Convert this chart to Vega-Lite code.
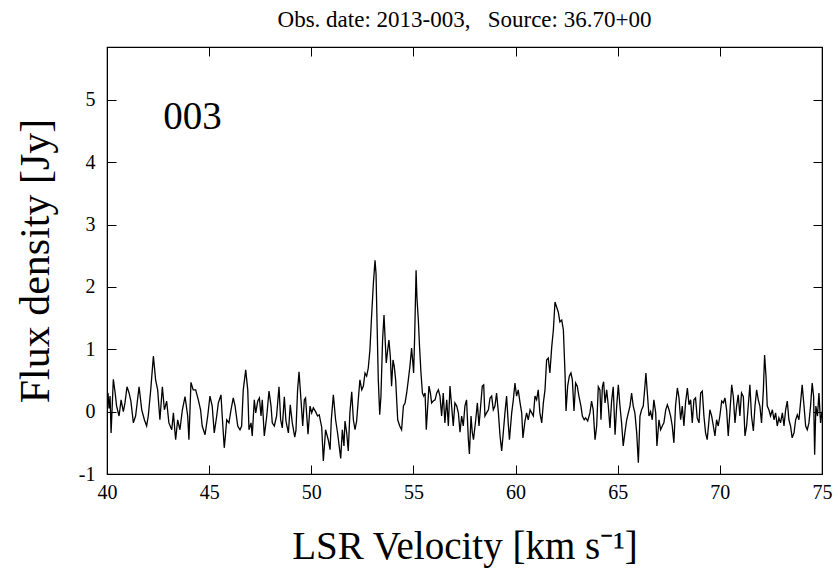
{
"$schema": "https://vega.github.io/schema/vega-lite/v6.json",
"width": 715, "height": 427,
"autosize": {"type": "none"},
"padding": {"left": 107, "top": 47, "right": 16, "bottom": 97},
"background": "white",
"config": {"view": {"stroke": "black", "strokeWidth": 1.2}, "font": "Liberation Serif",
  "axis": {"labelFont": "Liberation Serif", "titleFont": "Liberation Serif", "labelColor": "black", "titleColor": "black", "titleFontWeight": "normal", "grid": false},
  "text": {"font": "Liberation Serif"}},
"title": {"text": "Obs. date: 2013-003,\u00a0\u00a0\u00a0Source: 36.70+00", "fontSize": 23, "font": "Liberation Serif", "fontWeight": "normal", "color": "black", "anchor": "middle", "offset": 15},
"datasets": {
"spec": [
{"v":40.00,"f":0.20},{"v":40.05,"f":0.30},{"v":40.10,"f":0.05},{"v":40.15,"f":0.25},{"v":40.20,"f":-0.34},{"v":40.31,"f":0.52},{"v":40.40,"f":0.30},{"v":40.47,"f":0.09},{"v":40.59,"f":-0.07},{"v":40.69,"f":0.19},{"v":40.80,"f":0.00},{"v":40.88,"f":0.14},{"v":40.98,"f":0.40},{"v":41.08,"f":0.30},{"v":41.17,"f":0.17},{"v":41.29,"f":-0.18},{"v":41.40,"f":-0.07},{"v":41.57,"f":0.40},{"v":41.70,"f":0.03},{"v":41.83,"f":-0.13},{"v":41.94,"f":-0.23},{"v":42.02,"f":-0.07},{"v":42.14,"f":0.35},{"v":42.27,"f":0.89},{"v":42.38,"f":0.51},{"v":42.48,"f":0.35},{"v":42.59,"f":-0.13},{"v":42.71,"f":0.40},{"v":42.81,"f":0.03},{"v":42.92,"f":0.17},{"v":43.03,"f":-0.18},{"v":43.17,"f":-0.29},{"v":43.25,"f":-0.02},{"v":43.36,"f":-0.45},{"v":43.46,"f":-0.13},{"v":43.57,"f":-0.29},{"v":43.69,"f":0.03},{"v":43.82,"f":0.24},{"v":43.95,"f":-0.07},{"v":44.01,"f":-0.45},{"v":44.11,"f":0.47},{"v":44.22,"f":0.35},{"v":44.34,"f":0.35},{"v":44.47,"f":0.19},{"v":44.58,"f":0.03},{"v":44.66,"f":-0.23},{"v":44.80,"f":-0.37},{"v":44.93,"f":-0.07},{"v":45.04,"f":0.25},{"v":45.15,"f":0.09},{"v":45.25,"f":-0.34},{"v":45.37,"f":-0.07},{"v":45.45,"f":0.14},{"v":45.58,"f":0.27},{"v":45.64,"f":-0.07},{"v":45.74,"f":-0.58},{"v":45.80,"f":-0.37},{"v":45.86,"f":-0.13},{"v":45.97,"f":-0.18},
{"v":46.07,"f":0.03},{"v":46.18,"f":0.22},{"v":46.27,"f":0.09},{"v":46.40,"f":-0.23},{"v":46.51,"f":-0.29},{"v":46.59,"f":-0.23},{"v":46.67,"f":0.35},{"v":46.79,"f":0.67},{"v":46.89,"f":0.35},{"v":46.95,"f":-0.29},{"v":47.05,"f":-0.18},{"v":47.11,"f":-0.39},{"v":47.21,"f":0.19},{"v":47.28,"f":-0.02},{"v":47.38,"f":0.17},{"v":47.46,"f":0.22},{"v":47.54,"f":-0.07},{"v":47.60,"f":0.19},{"v":47.70,"f":-0.39},{"v":47.82,"f":-0.07},{"v":47.93,"f":0.33},{"v":48.03,"f":0.09},{"v":48.09,"f":-0.18},{"v":48.19,"f":-0.23},{"v":48.30,"f":-0.07},{"v":48.42,"f":0.40},{"v":48.50,"f":-0.13},{"v":48.58,"f":-0.26},{"v":48.68,"f":0.24},{"v":48.76,"f":-0.15},{"v":48.88,"f":-0.34},{"v":48.97,"f":0.11},{"v":49.07,"f":-0.18},{"v":49.19,"f":-0.41},{"v":49.25,"f":-0.30},{"v":49.33,"f":0.35},{"v":49.40,"f":0.64},{"v":49.50,"f":0.17},{"v":49.58,"f":-0.23},{"v":49.66,"f":0.19},{"v":49.72,"f":0.22},{"v":49.84,"f":-0.36},{"v":49.94,"f":0.09},{"v":50.02,"f":-0.02},{"v":50.10,"f":0.06},{"v":50.21,"f":0.00},{"v":50.31,"f":-0.07},{"v":50.39,"f":-0.05},{"v":50.51,"f":-0.25},{"v":50.59,"f":-0.79},{"v":50.70,"f":-0.29},{"v":50.83,"f":-0.45},{"v":50.92,"f":-0.61},{"v":50.98,"f":-0.13},{"v":51.08,"f":0.27},{"v":51.19,"f":-0.13},{"v":51.29,"f":-0.35},{"v":51.44,"f":-0.75},{"v":51.52,"f":-0.29},{"v":51.60,"f":-0.55},{"v":51.65,"f":-0.15},{"v":51.73,"f":-0.33},{"v":51.81,"f":-0.63},
{"v":51.89,"f":-0.02},{"v":51.98,"f":0.32},{"v":52.06,"f":-0.13},{"v":52.14,"f":-0.29},{"v":52.22,"f":-0.15},{"v":52.30,"f":0.19},{"v":52.38,"f":0.51},{"v":52.47,"f":0.35},{"v":52.55,"f":0.41},{"v":52.63,"f":0.62},{"v":52.71,"f":0.57},{"v":52.79,"f":0.70},{"v":52.87,"f":0.99},{"v":52.95,"f":1.52},{"v":53.04,"f":2.06},{"v":53.12,"f":2.43},{"v":53.17,"f":2.21},{"v":53.22,"f":1.42},{"v":53.28,"f":0.51},{"v":53.35,"f":-0.05},{"v":53.41,"f":0.25},{"v":53.49,"f":1.15},{"v":53.56,"f":1.55},{"v":53.61,"f":1.20},{"v":53.67,"f":0.78},{"v":53.74,"f":0.99},{"v":53.80,"f":1.15},{"v":53.87,"f":0.88},{"v":53.93,"f":0.41},{"v":54.00,"f":0.83},{"v":54.06,"f":0.73},{"v":54.13,"f":0.51},{"v":54.23,"f":-0.13},{"v":54.33,"f":-0.23},{"v":54.42,"f":-0.29},{"v":54.51,"f":0.09},{"v":54.59,"f":0.14},{"v":54.67,"f":0.30},{"v":54.75,"f":0.51},{"v":54.83,"f":0.73},{"v":54.91,"f":1.02},{"v":54.96,"f":0.83},{"v":55.01,"f":0.62},{"v":55.06,"f":1.20},{"v":55.13,"f":2.27},{"v":55.17,"f":1.84},{"v":55.24,"f":1.47},{"v":55.30,"f":1.04},{"v":55.37,"f":0.62},{"v":55.44,"f":0.30},{"v":55.50,"f":0.25},{"v":55.57,"f":0.30},{"v":55.63,"f":-0.29},{"v":55.70,"f":0.09},{"v":55.76,"f":0.41},{"v":55.83,"f":0.30},{"v":55.89,"f":0.14},{"v":55.97,"f":0.17},{"v":56.06,"f":0.19},{"v":56.14,"f":0.30},{"v":56.22,"f":0.35},{"v":56.30,"f":0.25},{"v":56.38,"f":-0.07},{"v":56.46,"f":0.30},{"v":56.54,"f":-0.18},{"v":56.63,"f":0.19},{"v":56.71,"f":-0.23},{"v":56.79,"f":0.41},{"v":56.87,"f":0.09},{"v":56.95,"f":-0.23},{"v":57.03,"f":0.14},{"v":57.12,"f":0.09},{"v":57.20,"f":-0.02},{"v":57.28,"f":-0.33},{"v":57.36,"f":-0.07},{"v":57.44,"f":-0.23},{"v":57.52,"f":0.09},{"v":57.60,"f":0.19},{"v":57.69,"f":-0.45},{"v":57.74,"f":-0.68},
{"v":57.82,"f":-0.07},{"v":57.88,"f":-0.33},{"v":57.94,"f":-0.45},{"v":58.05,"f":-0.13},{"v":58.13,"f":0.14},{"v":58.21,"f":-0.23},{"v":58.29,"f":0.09},{"v":58.37,"f":0.41},{"v":58.44,"f":0.43},{"v":58.50,"f":-0.07},{"v":58.58,"f":-0.02},{"v":58.67,"f":0.03},{"v":58.75,"f":0.22},{"v":58.83,"f":0.25},{"v":58.91,"f":0.03},{"v":58.99,"f":0.09},{"v":59.07,"f":0.30},{"v":59.16,"f":-0.02},{"v":59.24,"f":-0.39},{"v":59.32,"f":-0.63},{"v":59.40,"f":-0.33},{"v":59.48,"f":-0.02},{"v":59.56,"f":0.25},{"v":59.64,"f":-0.18},{"v":59.70,"f":-0.45},{"v":59.81,"f":-0.02},{"v":59.89,"f":0.19},{"v":59.97,"f":0.46},{"v":60.05,"f":0.25},{"v":60.13,"f":0.35},{"v":60.22,"f":0.14},{"v":60.30,"f":-0.02},{"v":60.36,"f":-0.42},{"v":60.46,"f":-0.15},{"v":60.54,"f":-0.02},{"v":60.62,"f":-0.13},{"v":60.71,"f":0.03},{"v":60.79,"f":-0.02},{"v":60.87,"f":-0.07},{"v":60.95,"f":0.25},{"v":61.03,"f":0.19},{"v":61.11,"f":0.35},{"v":61.19,"f":-0.02},{"v":61.28,"f":-0.18},{"v":61.36,"f":0.14},{"v":61.44,"f":0.35},{"v":61.52,"f":0.83},{"v":61.60,"f":0.86},{"v":61.68,"f":0.62},{"v":61.77,"f":1.04},{"v":61.85,"f":1.31},{"v":61.93,"f":1.76},{"v":62.01,"f":1.68},{"v":62.09,"f":1.60},{"v":62.17,"f":1.44},{"v":62.26,"f":1.47},{"v":62.34,"f":1.31},{"v":62.42,"f":0.62},{"v":62.47,"f":0.01},{"v":62.55,"f":0.41},{"v":62.63,"f":0.57},{"v":62.71,"f":0.62},{"v":62.78,"f":0.51},{"v":62.86,"f":0.01},{"v":62.94,"f":0.46},{"v":63.02,"f":0.41},{"v":63.10,"f":0.25},{"v":63.20,"f":0.09},{"v":63.27,"f":-0.07},{"v":63.36,"f":-0.13},{"v":63.43,"f":-0.10},{"v":63.53,"f":-0.15},{"v":63.64,"f":-0.02},
{"v":63.72,"f":0.17},{"v":63.80,"f":0.03},{"v":63.89,"f":-0.45},{"v":63.97,"f":-0.23},{"v":64.05,"f":0.40},{"v":64.13,"f":0.35},{"v":64.18,"f":-0.13},{"v":64.25,"f":0.40},{"v":64.31,"f":0.48},{"v":64.38,"f":0.14},{"v":64.46,"f":0.35},{"v":64.54,"f":0.09},{"v":64.62,"f":-0.26},{"v":64.70,"f":0.17},{"v":64.78,"f":0.40},{"v":64.87,"f":-0.37},{"v":64.95,"f":0.09},{"v":65.03,"f":0.43},{"v":65.11,"f":0.09},{"v":65.19,"f":-0.18},{"v":65.27,"f":-0.55},{"v":65.35,"f":-0.34},{"v":65.44,"f":-0.13},{"v":65.52,"f":-0.02},{"v":65.60,"f":0.09},{"v":65.68,"f":0.30},{"v":65.76,"f":0.09},{"v":65.84,"f":-0.02},{"v":65.93,"f":-0.34},{"v":66.01,"f":-0.82},{"v":66.09,"f":-0.07},{"v":66.17,"f":0.03},{"v":66.25,"f":0.09},{"v":66.33,"f":0.40},{"v":66.38,"f":0.62},{"v":66.45,"f":0.30},{"v":66.53,"f":-0.07},{"v":66.61,"f":0.00},{"v":66.69,"f":-0.13},{"v":66.77,"f":0.19},{"v":66.86,"f":-0.02},{"v":66.92,"f":-0.55},{"v":67.02,"f":-0.13},{"v":67.10,"f":-0.29},{"v":67.18,"f":-0.23},{"v":67.26,"f":-0.18},{"v":67.35,"f":0.03},{"v":67.43,"f":0.11},{"v":67.51,"f":0.03},{"v":67.59,"f":-0.07},{"v":67.67,"f":-0.23},{"v":67.75,"f":-0.50},{"v":67.83,"f":0.09},{"v":67.92,"f":0.38},{"v":68.00,"f":0.22},{"v":68.08,"f":-0.13},{"v":68.16,"f":0.09},{"v":68.24,"f":-0.23},{"v":68.32,"f":0.14},{"v":68.41,"f":0.38},{"v":68.49,"f":0.11},{"v":68.57,"f":0.19},{"v":68.65,"f":-0.18},{"v":68.73,"f":0.19},{"v":68.81,"f":0.22},{"v":68.89,"f":-0.10},{"v":68.98,"f":-0.18},{"v":69.06,"f":0.30},{"v":69.14,"f":0.33},{"v":69.22,"f":-0.07},{"v":69.30,"f":-0.34},{"v":69.38,"f":-0.45},{"v":69.47,"f":-0.13},
{"v":69.51,"f":0.03},{"v":69.60,"f":-0.07},{"v":69.68,"f":-0.23},{"v":69.76,"f":-0.39},{"v":69.84,"f":-0.13},{"v":69.92,"f":-0.23},{"v":70.00,"f":-0.07},{"v":70.09,"f":0.17},{"v":70.17,"f":0.14},{"v":70.25,"f":0.22},{"v":70.33,"f":0.03},{"v":70.41,"f":-0.39},{"v":70.49,"f":-0.02},{"v":70.58,"f":0.43},{"v":70.66,"f":0.24},{"v":70.74,"f":-0.18},{"v":70.82,"f":0.09},{"v":70.90,"f":0.27},{"v":70.98,"f":-0.07},{"v":71.06,"f":0.30},{"v":71.15,"f":0.24},{"v":71.23,"f":-0.39},{"v":71.31,"f":-0.23},{"v":71.39,"f":0.09},{"v":71.47,"f":0.43},{"v":71.55,"f":-0.07},{"v":71.64,"f":-0.31},{"v":71.72,"f":0.09},{"v":71.80,"f":0.35},{"v":71.88,"f":0.19},{"v":71.96,"f":0.09},{"v":72.04,"f":-0.18},{"v":72.13,"f":0.35},{"v":72.19,"f":0.91},{"v":72.26,"f":0.56},{"v":72.32,"f":0.09},{"v":72.40,"f":0.03},{"v":72.48,"f":-0.07},{"v":72.57,"f":0.03},{"v":72.65,"f":-0.13},{"v":72.73,"f":-0.02},{"v":72.81,"f":-0.23},{"v":72.89,"f":-0.10},{"v":72.97,"f":-0.18},{"v":73.06,"f":-0.02},{"v":73.14,"f":-0.23},{"v":73.22,"f":0.03},{"v":73.30,"f":0.17},{"v":73.38,"f":-0.13},{"v":73.46,"f":-0.23},{"v":73.54,"f":-0.42},{"v":73.63,"f":-0.34},{"v":73.71,"f":-0.13},{"v":73.79,"f":-0.05},{"v":73.87,"f":-0.13},{"v":73.95,"f":0.14},{"v":74.03,"f":0.43},{"v":74.12,"f":0.09},{"v":74.20,"f":-0.23},{"v":74.28,"f":-0.29},{"v":74.36,"f":-0.18},{"v":74.44,"f":0.09},{"v":74.52,"f":0.46},{"v":74.59,"f":0.24},{"v":74.64,"f":-0.69},{"v":74.70,"f":0.09},{"v":74.78,"f":-0.07},{"v":74.85,"f":0.30},{"v":74.93,"f":-0.18},{"v":75.00,"f":0.00}
],
"lab": [{"v": 44.18, "f": 4.72, "t": "003"}]
},
"layer": [
{"data": {"name": "spec"},
 "mark": {"type": "line", "color": "black", "strokeWidth": 1.3, "clip": true},
 "encoding": {
  "x": {"field": "v", "type": "quantitative", "scale": {"domain": [40, 75], "nice": false, "zero": false},
   "axis": {"orient": "bottom", "values": [40,45,50,55,60,65,70,75], "labelExpr": "'' + datum.value", "tickSize": -9, "tickColor": "black", "domainColor": "black", "labelFontSize": 20, "labelFont": "Liberation Serif", "labelColor": "black", "labelPadding": 17, "labelFlush": false, "grid": false, "title": "LSR Velocity [km s\u207b\u00b9]", "titleFontSize": 39, "titleFont": "Liberation Serif", "titleFontWeight": "normal", "titleColor": "black", "titlePadding": 25}},
  "y": {"field": "f", "type": "quantitative", "scale": {"domain": [-1, 5.85], "nice": false, "zero": false},
   "axis": {"orient": "left", "values": [-1,0,1,2,3,4,5], "labelExpr": "'' + datum.value", "tickSize": -9, "tickColor": "black", "domainColor": "black", "labelFontSize": 20, "labelFont": "Liberation Serif", "labelColor": "black", "labelPadding": 21, "labelFlush": false, "grid": false, "title": "Flux density [Jy]", "titleFontSize": 42, "titleFont": "Liberation Serif", "titleFontWeight": "normal", "titleColor": "black", "titlePadding": 21}}
 }},
{"data": {"name": "spec"},
 "mark": {"type": "line", "opacity": 0},
 "encoding": {
  "x": {"field": "v", "type": "quantitative", "axis": {"orient": "top", "values": [40,45,50,55,60,65,70,75], "tickSize": -9, "tickColor": "black", "domainColor": "black", "labels": false, "grid": false, "title": null}},
  "y": {"field": "f", "type": "quantitative", "axis": {"orient": "right", "values": [-1,0,1,2,3,4,5], "tickSize": -9, "tickColor": "black", "domainColor": "black", "labels": false, "grid": false, "title": null}}
 }},
{"data": {"name": "lab"},
 "mark": {"type": "text", "fontSize": 39, "font": "Liberation Serif", "baseline": "middle", "align": "center", "color": "black"},
 "encoding": {
  "x": {"field": "v", "type": "quantitative", "axis": null},
  "y": {"field": "f", "type": "quantitative", "axis": null},
  "text": {"field": "t"}
 }}
],
"resolve": {"axis": {"x": "independent", "y": "independent"}}
}
